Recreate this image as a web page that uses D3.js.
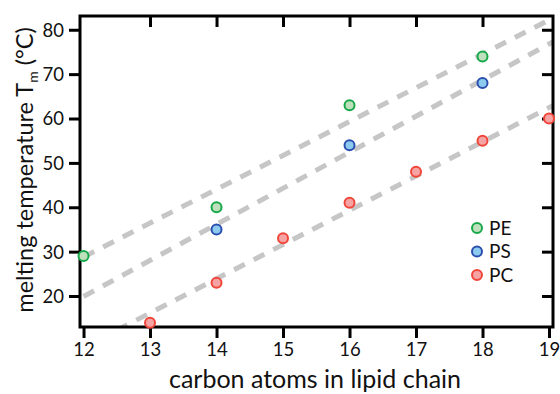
<!DOCTYPE html>
<html>
<head>
<meta charset="utf-8">
<script src="https://cdn.jsdelivr.net/npm/d3@7"></script>
<style>
  html, body { margin: 0; padding: 0; background: #fff; }
  svg { display: block; font-family: Lato, "Open Sans", sans-serif; }
</style>
</head>
<body>
<svg id="chart" width="560" height="394"></svg>
<script>
// ---- data ----
const xTicks = [12, 13, 14, 15, 16, 17, 18, 19];
const yTicks = [20, 30, 40, 50, 60, 70, 80];
const seriesNames = ["PE", "PS", "PC"];
const peX = [12, 14, 16, 18];
const peY = [29, 40, 63, 74];
const psX = [14, 16, 18];
const psY = [35, 54, 68];
const pcX = [13, 14, 15, 16, 17, 18, 19];
const pcY = [14, 23, 33, 41, 48, 55, 60];
// dashed trend lines: [x0, y0, x1, y1]
const peFit = [12, 28.8, 19.2, 83.7];
const psFit = [12, 19.9, 19.2, 78.4];
const pcFit = [12.5, 12.3, 19.2, 64.0];

const strokeColors = { PE: "#17a84a", PS: "#2a4fae", PC: "#f0463a" };
const fillColors   = { PE: "#bfe0bc", PS: "#8ccbef", PC: "#f5a3a3" };

const svg = d3.select("#chart");
const L = 80, R = 553, T = 16, B = 327;

const x = d3.scaleLinear().domain([11.947, 19.06]).range([L, R]);
const y = d3.scaleLinear().domain([13.02, 83.1]).range([B, T]);

svg.append("defs").append("clipPath").attr("id", "clip")
  .append("rect").attr("x", L).attr("y", T).attr("width", R - L).attr("height", B - T);

// trend lines
const fits = [peFit, psFit, pcFit];
const gl = svg.append("g").attr("clip-path", "url(#clip)");
fits.forEach(f => {
  gl.append("line")
    .attr("x1", x(f[0])).attr("y1", y(f[1]))
    .attr("x2", x(f[2])).attr("y2", y(f[3]))
    .attr("stroke", "#c6c6c6").attr("stroke-width", 5)
    .attr("stroke-dasharray", "12,10");
});

// axes
const tickStyle = g => {
  g.select(".domain").remove();
  g.selectAll(".tick line").attr("stroke", "#000").attr("stroke-width", 3);
  g.selectAll(".tick text").attr("fill", "#111").style("font-size", "18.5px").style("font-family", "Lato, sans-serif");
};

svg.append("g").attr("transform", `translate(0,${B})`)
  .call(d3.axisBottom(x).tickValues(xTicks).tickFormat(d3.format("d")).tickSize(11).tickPadding(5))
  .call(tickStyle);
svg.append("g").attr("transform", `translate(${L},0)`)
  .call(d3.axisLeft(y).tickValues(yTicks).tickFormat(d3.format("d")).tickSize(11).tickPadding(5))
  .call(tickStyle)
  .selectAll(".tick text").attr("dy", "0.35em");
svg.append("g").attr("transform", `translate(0,${T})`)
  .call(d3.axisBottom(x).tickValues(xTicks.slice(1, -1)).tickSize(11).tickFormat(""))
  .call(tickStyle);
svg.append("g").attr("transform", `translate(${R},0)`)
  .call(d3.axisRight(y).tickValues(yTicks).tickSize(-11).tickFormat(""))
  .call(tickStyle);

// frame
svg.append("rect").attr("x", L).attr("y", T).attr("width", R - L).attr("height", B - T)
  .attr("fill", "none").attr("stroke", "#000").attr("stroke-width", 3);

// points
const series = [
  { name: "PE", xs: peX, ys: peY },
  { name: "PS", xs: psX, ys: psY },
  { name: "PC", xs: pcX, ys: pcY }
];
series.forEach(s => {
  svg.append("g").selectAll("circle")
    .data(s.xs.map((v, i) => [v, s.ys[i]]))
    .join("circle")
    .attr("cx", d => x(d[0])).attr("cy", d => y(d[1])).attr("r", 5)
    .attr("fill", fillColors[s.name]).attr("stroke", strokeColors[s.name]).attr("stroke-width", 2);
});

// legend
const lg = svg.append("g");
seriesNames.forEach((n, i) => {
  const yy = 228 + i * 23.5;
  lg.append("circle").attr("cx", 477).attr("cy", yy).attr("r", 5)
    .attr("fill", fillColors[n]).attr("stroke", strokeColors[n]).attr("stroke-width", 2);
  lg.append("text").attr("x", 489).attr("y", yy).attr("dy", "0.35em")
    .style("font-size", "19px").attr("fill", "#111").text(n);
});

// axis titles
svg.append("text").attr("x", 315).attr("y", 388).attr("text-anchor", "middle")
  .style("font-size", "25px").attr("fill", "#111").text("carbon atoms in lipid chain");

const yt = svg.append("text").attr("transform", "translate(33,170) rotate(-90)")
  .attr("text-anchor", "middle").style("font-size", "23.5px").attr("fill", "#111");
yt.append("tspan").text("melting temperature T");
yt.append("tspan").attr("dy", "5").style("font-size", "14px").text("m");
yt.append("tspan").attr("dy", "-5").text(" (°C)");
</script>
</body>
</html>
